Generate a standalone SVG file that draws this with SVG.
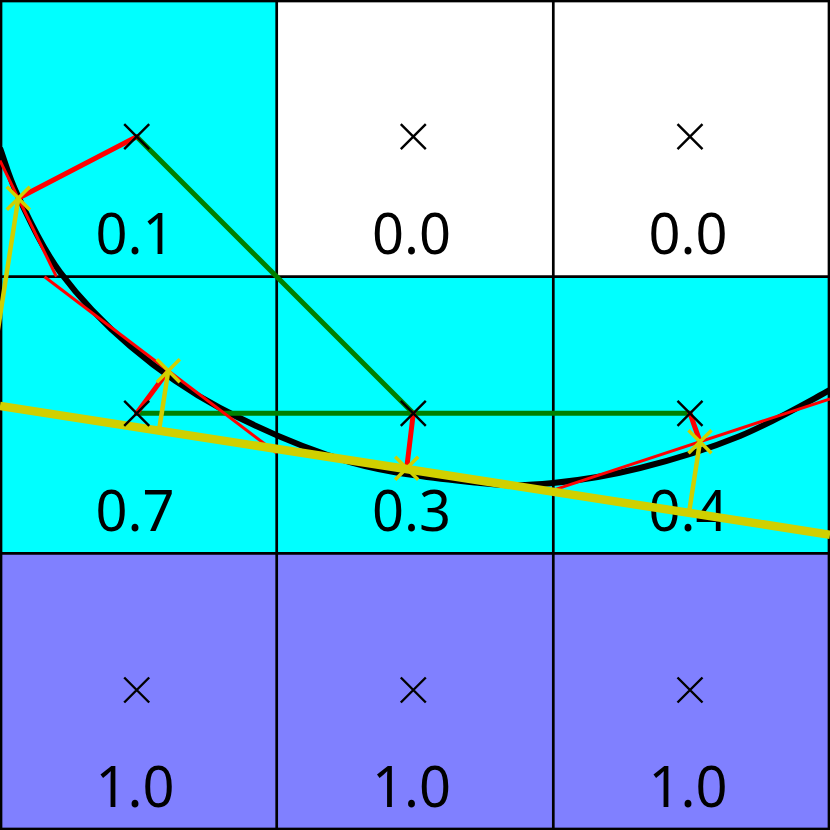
<svg xmlns="http://www.w3.org/2000/svg" width="830" height="830" viewBox="0 0 830 830">
<style>
.grid{stroke:#000;stroke-width:2.7;fill:none}
.lbl{font-family:"Noto Sans","Open Sans","DejaVu Sans",sans-serif;font-size:56px;fill:#000;text-anchor:middle}
.mk{stroke:#000;stroke-width:2.4;fill:none}
.ymk{stroke:#d0d000;stroke-width:3.5;fill:none}
.green{stroke:#008000;stroke-width:5;fill:none}
.redthick{stroke:#ff0000;stroke-width:5;fill:none;stroke-linecap:round}
.redthin{stroke:#ff0000;stroke-width:3;fill:none}
.ythin{stroke:#d0d000;stroke-width:4.5;fill:none}
</style>
<defs>
<path id="x" d="M-12.5,-12.5L12.5,12.5M-12.5,12.5L12.5,-12.5"/>
<path id="yx" d="M-11.5,-11.5L11.5,11.5M-11.5,11.5L11.5,-11.5"/>
</defs>
<g id="cells">
<rect x="0" y="0" width="276.7" height="276.7" fill="#00ffff"/>
<rect x="276.7" y="0" width="276.6" height="276.7" fill="#ffffff"/>
<rect x="553.3" y="0" width="276.7" height="276.7" fill="#ffffff"/>
<rect x="0" y="276.7" width="830" height="276.6" fill="#00ffff"/>
<rect x="0" y="553.3" width="830" height="276.7" fill="#8080ff"/>
</g>
<g id="grid" class="grid">
<rect x="1" y="1" width="828" height="828"/>
<line x1="276.7" y1="0" x2="276.7" y2="830"/>
<line x1="553.3" y1="0" x2="553.3" y2="830"/>
<line x1="0" y1="276.7" x2="830" y2="276.7"/>
<line x1="0" y1="553.3" x2="830" y2="553.3"/>
</g>
<g id="curve">
<path d="M0,148 C4.7,160.3 8,175.3 18,196 C28,216.7 41.3,247 60,272 C78.7,297 103.3,323.3 130,346 C156.7,368.7 183.3,388.7 220,408 C256.7,427.3 306.7,449.5 350,462 C393.3,474.5 446.2,479.5 480,483 C513.8,486.5 526.3,485.5 553,483 C579.7,480.5 608.8,475.8 640,468 C671.2,460.2 708.3,449 740,436 C771.7,423 811.7,399.7 830,390" stroke="#000" stroke-width="6" fill="none"/>
</g>
<g id="connectors">
<line class="green" x1="136.7" y1="136.7" x2="413.3" y2="413.3"/>
<line class="green" x1="136.7" y1="413.3" x2="690" y2="413.3"/>
<line class="redthin" x1="0" y1="160.6" x2="56.4" y2="276.7"/>
<line class="redthin" x1="44.5" y1="276.7" x2="276.7" y2="453"/>
<line class="redthin" x1="553.3" y1="490.1" x2="830" y2="398.8"/>
<line class="redthick" x1="136.7" y1="136.7" x2="18.3" y2="198.3"/>
<line class="redthick" x1="136.7" y1="413.3" x2="168.3" y2="370.7"/>
<line class="redthick" x1="413.3" y1="413.3" x2="406.7" y2="468.3"/>
<line class="redthick" x1="690" y1="413.3" x2="700" y2="441.7"/>
</g>
<g id="labels">
<text class="lbl" x="135" y="254">0.1</text>
<text class="lbl" x="411.5" y="254">0.0</text>
<text class="lbl" x="688" y="254">0.0</text>
<text class="lbl" x="135" y="530.7">0.7</text>
<text class="lbl" x="411.5" y="530.7">0.3</text>
<text class="lbl" x="688" y="530.7">0.4</text>
<text class="lbl" x="135" y="807">1.0</text>
<text class="lbl" x="411.5" y="807">1.0</text>
<text class="lbl" x="688" y="807">1.0</text>
</g>
<g id="fit">
<line x1="0" y1="406" x2="830" y2="534.7" stroke="#d0d000" stroke-width="8.5"/>
<line class="ythin" x1="18.3" y1="198.3" x2="-13.6" y2="403.9"/>
<line class="ythin" x1="168.3" y1="370.7" x2="159" y2="430.6"/>
<line class="ythin" x1="700" y1="441.7" x2="689" y2="512.8"/>
<use href="#yx" class="ymk" x="18.3" y="198.3"/>
<use href="#yx" class="ymk" x="168.3" y="370.7"/>
<use href="#yx" class="ymk" x="406.7" y="468.3"/>
<use href="#yx" class="ymk" x="700" y="441.7"/>
</g>
<g id="markers">
<use href="#x" class="mk" x="136.7" y="136.7"/>
<use href="#x" class="mk" x="413.3" y="136.7"/>
<use href="#x" class="mk" x="690" y="136.7"/>
<use href="#x" class="mk" x="136.7" y="413.3"/>
<use href="#x" class="mk" x="413.3" y="413.3"/>
<use href="#x" class="mk" x="690" y="413.3"/>
<use href="#x" class="mk" x="136.7" y="690"/>
<use href="#x" class="mk" x="413.3" y="690"/>
<use href="#x" class="mk" x="690" y="690"/>
</g>
</svg>
